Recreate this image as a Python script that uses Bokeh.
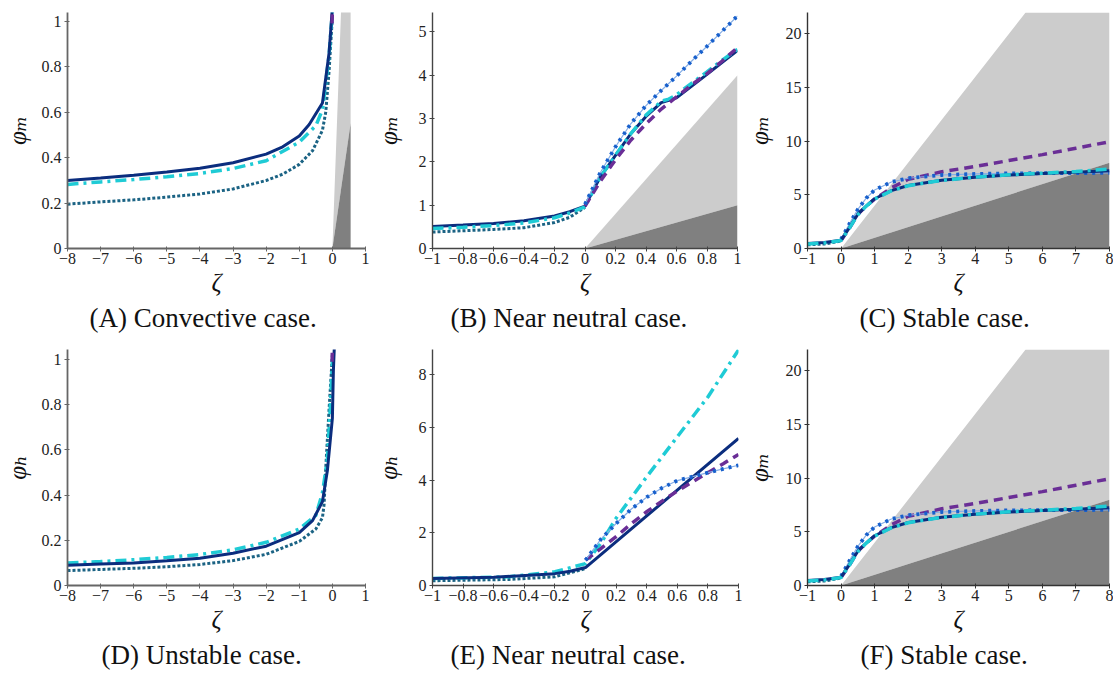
from bokeh.plotting import figure
from bokeh.layouts import column, row
from bokeh.models import FixedTicker, Range1d, Title
from bokeh.embed import file_html
from bokeh.resources import INLINE

NAVY = "#0b2d7e"
CYAN = "#1fcbd5"
TEAL = "#1b6384"
PURPLE = "#6a2e96"
BLUE = "#1860cc"
BLUE_LIGHT = "#86aee6"
LIGHT = "#cccccc"
DARK = "#808080"

# ---------------- Panel A: phi_m, convective ----------------
a_navy_x = [-8, -7, -6, -5, -4, -3, -2, -1.5, -1, -0.7, -0.3, -0.1, -0.03, 0]
a_navy_y = [0.299, 0.310, 0.322, 0.336, 0.353, 0.377, 0.415, 0.447, 0.495, 0.545, 0.640, 0.86, 1.0, 1.06]
a_cyan_x = [-8, -7, -6, -5, -4, -3, -2, -1, -0.5, -0.3, -0.1, 0]
a_cyan_y = [0.282, 0.293, 0.303, 0.316, 0.330, 0.352, 0.386, 0.468, 0.54, 0.61, 0.85, 1.04]
a_teal_x = [-8, -7, -6, -5, -4, -3, -2, -1.5, -1, -0.6, -0.3, -0.2, -0.1, 0]
a_teal_y = [0.195, 0.205, 0.214, 0.226, 0.240, 0.262, 0.299, 0.327, 0.37, 0.43, 0.52, 0.60, 0.78, 1.02]
a_purple_x = [-0.01, 0.01]
a_purple_y = [0.99, 1.1]
a_light_x = [0, 0.26, 0.55]
a_light_lo = [0, 0.26, 0.55]
a_light_hi = [0, 1.04, 1.04]
a_dark_x = [0, 0.55]
a_dark_hi = [0, 0.55]

# ---------------- Panel B: phi_m, near neutral ----------------
b_navy_x = [-1, -0.8, -0.6, -0.4, -0.2, -0.1, 0, 0.1, 0.2, 0.3, 0.4, 0.5, 0.55, 0.6, 0.7, 0.8, 0.9, 1.0]
b_navy_y = [0.51, 0.54, 0.58, 0.64, 0.75, 0.85, 0.98, 1.65, 2.15, 2.65, 3.05, 3.37, 3.42, 3.48, 3.75, 4.02, 4.3, 4.57]
b_cyan_x = [-1, -0.8, -0.6, -0.4, -0.2, -0.1, 0, 0.1, 0.2, 0.3, 0.4, 0.5, 0.55, 0.6, 0.7, 0.8, 0.9, 1.0]
b_cyan_y = [0.46, 0.49, 0.53, 0.59, 0.71, 0.82, 0.96, 1.65, 2.15, 2.65, 3.08, 3.4, 3.45, 3.55, 3.82, 4.08, 4.35, 4.6]
b_purple_x = [0, 0.1, 0.2, 0.3, 0.4, 0.5, 0.6, 0.7, 0.8, 0.9, 1.0]
b_purple_y = [0.98, 1.55, 2.05, 2.5, 2.88, 3.22, 3.5, 3.78, 4.04, 4.33, 4.64]
b_blue_x = [0, 0.1, 0.2, 0.3, 0.4, 0.5, 0.6, 0.7, 0.8, 0.9, 1.0]
b_blue_y = [1.02, 1.75, 2.35, 2.88, 3.3, 3.65, 3.98, 4.33, 4.67, 5.02, 5.37]
b_teal_x = [-1, -0.8, -0.6, -0.4, -0.2, -0.1, 0]
b_teal_y = [0.38, 0.41, 0.44, 0.48, 0.6, 0.72, 0.95]
b_light_x = [0, 1]
b_light_lo = [0, 1]
b_light_hi = [0, 4]
b_dark_x = [0, 1]
b_dark_hi = [0, 1]

# ---------------- Panels C and F: phi_m, stable ----------------
c_navy_x = [-1, -0.5, 0, 0.25, 0.5, 0.75, 1, 1.5, 2, 3, 4, 5, 6, 7, 8]
c_navy_y = [0.46, 0.56, 0.77, 1.95, 3.2, 3.96, 4.64, 5.4, 5.87, 6.37, 6.65, 6.85, 6.98, 7.1, 7.25]
c_cyan_x = [-1, -0.5, 0, 0.25, 0.5, 0.75, 1, 1.5, 2, 3, 4, 5, 6, 7, 8]
c_cyan_y = [0.42, 0.52, 0.74, 1.9, 3.15, 3.95, 4.6, 5.38, 5.85, 6.35, 6.65, 6.87, 7.02, 7.18, 7.4]
c_purple_x = [0, 0.25, 0.5, 0.75, 1, 1.5, 2, 3, 4, 5, 6, 7, 8]
c_purple_y = [0.75, 1.9, 3.2, 3.95, 4.6, 5.66, 6.45, 7.15, 7.65, 8.2, 8.75, 9.35, 9.95]
c_blue_x = [0, 0.25, 0.5, 0.75, 1, 1.5, 2, 3, 4, 5, 6, 7, 8]
c_blue_y = [0.86, 2.3, 3.65, 4.7, 5.45, 6.2, 6.55, 6.85, 6.95, 7.0, 7.02, 7.03, 7.05]
c_teal_x = [-1, -0.5, 0]
c_teal_y = [0.34, 0.42, 0.7]
c_light_x = [0, 5.5, 8]
c_light_lo = [0, 5.5, 8]
c_light_hi = [0, 22, 22]
c_dark_x = [0, 8]
c_dark_hi = [0, 8]

# ---------------- Panel D: phi_h, unstable ----------------
d_navy_x = [-8, -7, -6, -5, -4, -3, -2, -1, -0.6, -0.3, -0.15, 0, 0.03, 0.06]
d_navy_y = [0.090, 0.095, 0.100, 0.109, 0.121, 0.143, 0.174, 0.234, 0.287, 0.371, 0.51, 0.74, 0.95, 1.06]
d_cyan_x = [-8, -7, -6, -5, -4, -3, -2, -1, -0.5, -0.3, -0.15, -0.05, 0]
d_cyan_y = [0.099, 0.106, 0.114, 0.124, 0.137, 0.158, 0.191, 0.25, 0.31, 0.41, 0.56, 0.82, 1.0]
d_teal_x = [-8, -7, -6, -5, -4, -3, -2, -1, -0.5, -0.3, -0.25, -0.2, -0.1, 0]
d_teal_y = [0.066, 0.071, 0.076, 0.083, 0.093, 0.110, 0.138, 0.195, 0.25, 0.30, 0.36, 0.52, 0.78, 1.02]
d_purple_x = [-0.01, 0.01]
d_purple_y = [0.99, 1.1]

# ---------------- Panel E: phi_h, near neutral ----------------
e_navy_x = [-1, -0.6, -0.2, -0.1, 0, 1.0]
e_navy_y = [0.27, 0.31, 0.45, 0.54, 0.68, 5.58]
e_cyan_x = [-1, -0.5, -0.2, 0, 0.1, 0.2, 0.4, 0.6, 0.8, 1.0]
e_cyan_y = [0.27, 0.33, 0.52, 0.83, 1.6, 2.55, 4.12, 5.64, 7.15, 8.93]
e_purple_x = [0, 0.1, 0.2, 0.3, 0.4, 0.5, 0.6, 0.7, 0.8, 0.9, 1.0]
e_purple_y = [0.96, 1.4, 1.85, 2.35, 2.8, 3.2, 3.58, 3.93, 4.28, 4.62, 4.97]
e_blue_x = [0, 0.1, 0.2, 0.3, 0.4, 0.5, 0.6, 0.7, 0.8, 0.9, 1.0]
e_blue_y = [0.96, 1.75, 2.35, 2.9, 3.35, 3.7, 3.98, 4.13, 4.28, 4.42, 4.56]
e_teal_x = [-1, -0.5, -0.2, 0]
e_teal_y = [0.18, 0.23, 0.33, 0.64]

# ---------------- ticks / labels ----------------
ticks_conv_x = [-8, -7, -6, -5, -4, -3, -2, -1, 0, 1]
labels_conv_x = ["\u22128", "\u22127", "\u22126", "\u22125", "\u22124", "\u22123", "\u22122", "\u22121", "0", "1"]
ticks_unit_y = [0, 0.2, 0.4, 0.6, 0.8, 1]
labels_unit_y = ["0", "0.2", "0.4", "0.6", "0.8", "1"]
ticks_nn_x = [-1, -0.8, -0.6, -0.4, -0.2, 0, 0.2, 0.4, 0.6, 0.8, 1]
labels_nn_x = ["\u22121", "\u22120.8", "\u22120.6", "\u22120.4", "\u22120.2", "0", "0.2", "0.4", "0.6", "0.8", "1"]
ticks_b_y = [0, 1, 2, 3, 4, 5]
ticks_e_y = [0, 2, 4, 6, 8]
ticks_st_x = [-1, 0, 1, 2, 3, 4, 5, 6, 7, 8]
labels_st_x = ["\u22121", "0", "1", "2", "3", "4", "5", "6", "7", "8"]
ticks_st_y = [0, 5, 10, 15, 20]

captions = ["(A) Convective case.", "(B) Near neutral case.", "(C) Stable case.",
            "(D) Unstable case.", "(E) Near neutral case.", "(F) Stable case."]

SERIF = "'Liberation Serif', 'DejaVu Serif', serif"


def panel(xr, yr, bl, br, bt, bb, xt, xl, yt, yl, ylabel, caption, cap_offset,
          axis_color, axis_w, ylab_standoff):
    p = figure(width=371, height=340, x_range=Range1d(*xr), y_range=Range1d(*yr),
               output_backend="svg", toolbar_location=None,
               min_border_left=bl, min_border_right=br, min_border_top=bt, min_border_bottom=bb)
    p.outline_line_color = None
    p.grid.visible = False
    p.background_fill_color = "white"
    p.border_fill_color = "white"
    for ax in (p.xaxis[0], p.yaxis[0]):
        ax.axis_line_color = axis_color
        ax.axis_line_width = axis_w
        ax.major_tick_line_color = axis_color
        ax.major_tick_in = 2
        ax.major_tick_out = 3
        ax.minor_tick_line_color = None
        ax.major_label_text_font = SERIF
        ax.major_label_text_font_size = "16px"
        ax.major_label_text_color = "#222222"
        ax.axis_label_text_font = SERIF
        ax.axis_label_text_font_style = "italic"
        ax.axis_label_text_color = "#111111"
    p.xaxis[0].ticker = FixedTicker(ticks=xt)
    p.xaxis[0].major_label_overrides = {t: l for t, l in zip(xt, xl)}
    p.yaxis[0].ticker = FixedTicker(ticks=yt)
    p.yaxis[0].major_label_overrides = {t: l for t, l in zip(yt, yl)}
    p.xaxis[0].axis_label = "\u03b6"
    p.xaxis[0].axis_label_text_font_size = "25px"
    p.xaxis[0].axis_label_standoff = 2
    p.xaxis[0].major_label_standoff = 1
    p.yaxis[0].axis_label = ylabel
    p.yaxis[0].axis_label_text_font_size = "25px"
    p.yaxis[0].axis_label_standoff = ylab_standoff
    p.yaxis[0].major_label_standoff = 3
    p.add_layout(Title(text=caption, align="left", offset=cap_offset, standoff=4,
                       text_font=SERIF, text_font_size="27px", text_font_style="normal",
                       text_color="#111111"), "below")
    return p


def shade(p, lx, llo, lhi, dx, dhi):
    p.varea(x=lx, y1=llo, y2=lhi, fill_color=LIGHT)
    p.varea(x=dx, y1=[0] * len(dx), y2=dhi, fill_color=DARK)


def navy(p, x, y):
    p.line(x, y, line_color=NAVY, line_width=3)


def cyan(p, x, y):
    p.line(x, y, line_color=CYAN, line_width=3.5, line_dash="11 5 3 5")


def teal(p, x, y):
    p.line(x, y, line_color=TEAL, line_width=3, line_dash="3 2")


def purple(p, x, y):
    p.line(x, y, line_color=PURPLE, line_width=3.5, line_dash="9 6")


def blue(p, x, y):
    p.line(x, y, line_color=BLUE_LIGHT, line_width=1.2)
    p.line(x, y, line_color=BLUE, line_width=3.8, line_dash="3 5")


PHI_M = "\u03c6\u2098"
PHI_H = "\u03c6\u2095"

# A
pA = panel((-8, 1), (0, 1.038), 56, 6, 5, 89, ticks_conv_x, labels_conv_x, ticks_unit_y, labels_unit_y,
           PHI_M, captions[0], 22, "#666666", 1.8, 8)
shade(pA, a_light_x, a_light_lo, a_light_hi, a_dark_x, a_dark_hi)
teal(pA, a_teal_x, a_teal_y)
cyan(pA, a_cyan_x, a_cyan_y)
navy(pA, a_navy_x, a_navy_y)
purple(pA, a_purple_x, a_purple_y)

# B
pB = panel((-1, 1), (0, 5.45), 58, 5, 12, 92, ticks_nn_x, labels_nn_x, ticks_b_y, [str(t) for t in ticks_b_y],
           PHI_M, captions[1], 18, "#444444", 1.4, 14)
shade(pB, b_light_x, b_light_lo, b_light_hi, b_dark_x, b_dark_hi)
teal(pB, b_teal_x, b_teal_y)
navy(pB, b_navy_x, b_navy_y)
cyan(pB, b_cyan_x, b_cyan_y)
purple(pB, b_purple_x, b_purple_y)
blue(pB, b_blue_x, b_blue_y)

# C
pC = panel((-1, 8), (0, 22), 60, 4, 11, 92, ticks_st_x, labels_st_x, ticks_st_y, [str(t) for t in ticks_st_y],
           PHI_M, captions[2], 52, "#333333", 1.4, 10)
shade(pC, c_light_x, c_light_lo, c_light_hi, c_dark_x, c_dark_hi)
teal(pC, c_teal_x, c_teal_y)
purple(pC, c_purple_x, c_purple_y)
blue(pC, c_blue_x, c_blue_y)
navy(pC, c_navy_x, c_navy_y)
cyan(pC, c_cyan_x, c_cyan_y)

# D
pD = panel((-8, 1), (0, 1.044), 56, 6, 3, 91, ticks_conv_x, labels_conv_x, ticks_unit_y, labels_unit_y,
           PHI_H, captions[3], 34, "#666666", 1.8, 8)
teal(pD, d_teal_x, d_teal_y)
cyan(pD, d_cyan_x, d_cyan_y)
navy(pD, d_navy_x, d_navy_y)
purple(pD, d_purple_x, d_purple_y)

# E
pE = panel((-1, 1), (0, 8.95), 58, 4, 9, 95, ticks_nn_x, labels_nn_x, ticks_e_y, [str(t) for t in ticks_e_y],
           PHI_H, captions[4], 18, "#444444", 1.4, 14)
teal(pE, e_teal_x, e_teal_y)
cyan(pE, e_cyan_x, e_cyan_y)
navy(pE, e_navy_x, e_navy_y)
purple(pE, e_purple_x, e_purple_y)
blue(pE, e_blue_x, e_blue_y)

# F (same data as C)
pF = panel((-1, 8), (0, 22), 60, 4, 9, 95, ticks_st_x, labels_st_x, ticks_st_y, [str(t) for t in ticks_st_y],
           PHI_M, captions[5], 53, "#333333", 1.4, 10)
shade(pF, c_light_x, c_light_lo, c_light_hi, c_dark_x, c_dark_hi)
teal(pF, c_teal_x, c_teal_y)
purple(pF, c_purple_x, c_purple_y)
blue(pF, c_blue_x, c_blue_y)
navy(pF, c_navy_x, c_navy_y)
cyan(pF, c_cyan_x, c_cyan_y)

layout = column(row(pA, pB, pC, spacing=0), row(pD, pE, pF, spacing=0), spacing=0)
open("out.html", "w").write(file_html(layout, INLINE))
